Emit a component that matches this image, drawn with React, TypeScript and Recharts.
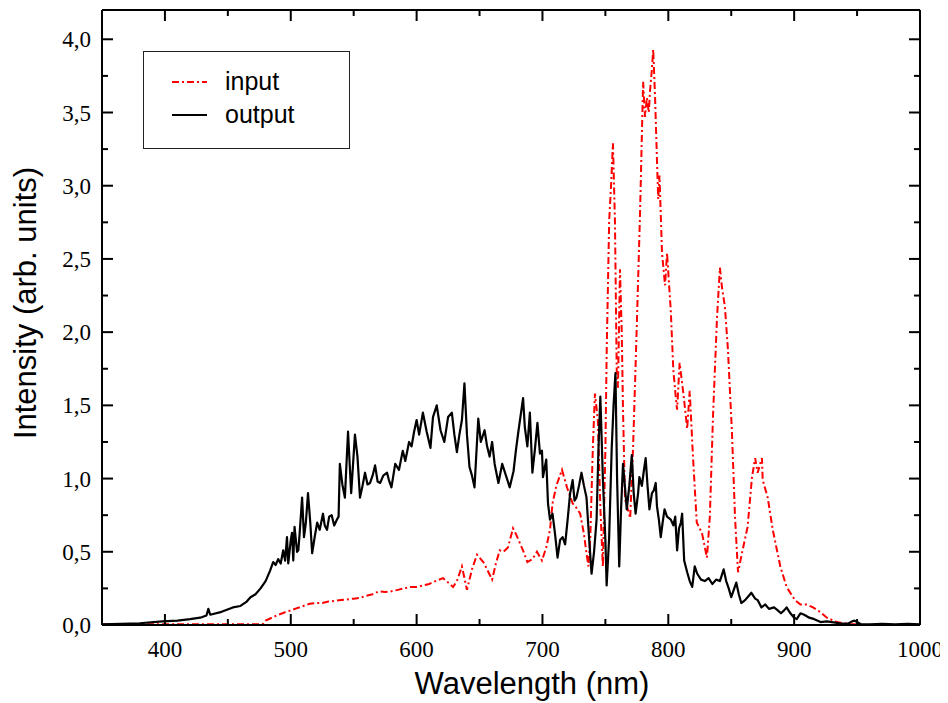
import React from 'react';
import { LineChart, Line, XAxis, YAxis, Legend } from 'recharts';

// output spectrum (black, solid)
const outputWavelength = [
  350, 365, 380, 398, 410, 420, 428, 433, 434.5, 436, 445, 454, 460, 465, 468, 472, 476, 480, 483.5, 486,
  488, 490, 492, 494, 495.5, 497, 498, 500, 501, 502, 503, 505, 506, 507, 509, 510.5, 512, 513.7, 515.5, 517,
  519, 521, 523, 525.6, 527, 528.8, 530.5, 532.5, 534.5, 536.7, 538, 539, 541, 543, 545.5, 548, 549.5, 551, 553, 555,
  557, 559, 561, 563, 565, 567, 569, 571, 573.5, 576.5, 578, 580, 583, 586, 589, 591, 594, 596, 598, 600,
  602, 605, 608, 611, 613, 616, 619, 622, 625, 628, 630, 632, 634, 636, 638, 640, 642, 644, 646, 649,
  651, 654, 656, 658, 660, 662, 665, 668, 671, 674, 677, 679, 681, 684.6, 686, 688, 690, 692, 694, 696,
  698, 699.6, 700.4, 703, 704.4, 706, 708, 710, 712, 714, 716, 718, 720, 722, 724, 725.5, 727, 729, 731, 733,
  735, 737, 739, 741, 743, 744.5, 746, 748, 750, 751, 753, 755, 756.5, 758, 759.3, 761, 762.5, 764, 765.5, 767,
  769, 771, 772.5, 774, 776, 777, 779, 780.5, 782, 783.5, 785, 787, 788.5, 790, 791, 792.5, 794, 795.5, 797, 799,
  802, 804, 805.5, 807, 808.5, 810, 811, 812.6, 815, 817, 819, 821, 823, 826, 829, 832, 835, 838, 841, 844,
  846, 848, 850, 852, 854, 856, 858, 861, 864, 866, 869, 871, 874, 877, 880, 884, 887, 889.5, 892, 894,
  897, 900, 902, 905, 908, 912, 916, 921, 926, 930, 937, 943, 946, 948, 950, 953, 960, 970, 980, 990, 1000,
];
const outputIntensity = [
  0.005, 0.008, 0.012, 0.025, 0.03, 0.04, 0.05, 0.065, 0.11, 0.07, 0.09, 0.12, 0.13, 0.16, 0.19, 0.21, 0.25, 0.3, 0.37, 0.43,
  0.41, 0.45, 0.42, 0.51, 0.44, 0.6, 0.42, 0.58, 0.63, 0.44, 0.67, 0.5, 0.51, 0.62, 0.87, 0.6, 0.7, 0.9, 0.7, 0.49,
  0.6, 0.7, 0.65, 0.76, 0.68, 0.65, 0.74, 0.75, 0.68, 0.72, 0.74, 1.1, 0.96, 0.87, 1.32, 0.9, 1.1, 1.3, 1.15, 0.87,
  0.95, 1.04, 0.96, 0.97, 1.02, 1.09, 0.98, 0.97, 1.02, 1.04, 0.99, 0.94, 1.1, 1.06, 1.19, 1.12, 1.25, 1.22, 1.32, 1.4,
  1.3, 1.45, 1.32, 1.21, 1.42, 1.5, 1.33, 1.25, 1.42, 1.45, 1.3, 1.18, 1.3, 1.4, 1.65, 1.3, 1.08, 1.02, 0.94, 1.41,
  1.25, 1.33, 1.22, 1.15, 1.25, 1.1, 0.97, 1.1, 1.02, 0.94, 1.05, 1.2, 1.33, 1.55, 1.35, 1.22, 1.45, 1.04, 1.2, 1.38,
  1.17, 1.19, 1.01, 1.13, 0.83, 0.72, 0.76, 0.62, 0.46, 0.58, 0.6, 0.55, 0.72, 0.9, 0.99, 0.85, 0.87, 0.95, 1.04, 0.95,
  0.87, 0.6, 0.35, 0.5, 0.72, 1.2, 1.56, 1.0, 0.58, 0.27, 0.6, 1.2, 1.5, 1.72, 1.0, 0.4, 0.8, 1.1, 0.95, 0.79,
  0.95, 1.16, 0.9, 0.76, 0.9, 1.01, 0.95, 1.05, 1.14, 0.95, 0.79, 0.9, 0.92, 0.97, 0.81, 0.72, 0.6, 0.7, 0.79, 0.74,
  0.72, 0.68, 0.74, 0.51, 0.66, 0.7, 0.76, 0.44, 0.36, 0.3, 0.26, 0.4, 0.35, 0.31, 0.3, 0.32, 0.28, 0.31, 0.3, 0.38,
  0.3, 0.25, 0.19, 0.24, 0.29, 0.21, 0.15, 0.17, 0.2, 0.22, 0.18, 0.17, 0.12, 0.14, 0.11, 0.12, 0.1, 0.08, 0.1, 0.12,
  0.08, 0.05, 0.04, 0.08, 0.07, 0.05, 0.04, 0.02, 0.025, 0.02, 0.01, 0.01, 0.025, 0.03, 0.02, 0.005, 0.005, 0.008, 0.005, 0.008, 0.005,
];

// input spectrum (red, dash-dot)
const inputWavelength = [
  350, 380, 420, 460, 470, 475, 478, 480, 485, 490, 495, 500, 505, 510, 515, 520, 525, 530, 540, 550,
  555, 560, 565, 570, 575, 580, 585, 590, 595, 600, 605, 610, 615, 621, 625, 629, 632, 636, 638, 640,
  644, 648, 653, 656, 660, 663, 666, 669, 672.6, 676.6, 679, 682, 685, 688, 692, 695.6, 699.6, 703, 706, 708,
  711, 715.5, 719.5, 724, 727, 730, 733, 735, 736.5, 738, 740, 741.7, 744, 746, 748, 750, 751, 753, 754.5, 756,
  757.6, 759, 760, 761.6, 763, 764, 765.6, 767.5, 769.7, 772, 774.8, 777.5, 780, 781.5, 783, 784.5, 785.5, 787, 788, 789.5,
  791, 792, 793, 795, 797.4, 799, 802, 804, 806, 807, 809, 812, 815, 817, 819.6, 822.6, 826.7, 830.7, 833, 835.5,
  838.7, 841, 842.6, 845, 847.4, 850.6, 853, 855.4, 859, 863, 866.5, 869, 871, 873, 874.4, 875, 879, 883, 889, 894,
  900.6, 905, 910, 915, 920.5, 926, 934, 944, 950,
];
const inputIntensity = [
  0.005, 0.005, 0.005, 0.005, 0.005, 0.005, 0.008, 0.03, 0.05, 0.07, 0.085, 0.1, 0.115, 0.13, 0.145, 0.15, 0.15, 0.16, 0.17, 0.18,
  0.185, 0.2, 0.21, 0.23, 0.225, 0.23, 0.24, 0.25, 0.26, 0.26, 0.27, 0.28, 0.3, 0.32, 0.29, 0.26, 0.3, 0.4, 0.32, 0.24,
  0.38, 0.48, 0.43, 0.38, 0.31, 0.42, 0.51, 0.5, 0.53, 0.66, 0.62, 0.56, 0.5, 0.43, 0.45, 0.5, 0.44, 0.53, 0.65, 0.83,
  0.95, 1.06, 0.94, 0.83, 0.8, 0.76, 0.62, 0.49, 0.4, 0.6, 1.2, 1.58, 1.4, 0.8, 0.4, 1.2, 1.85, 2.76, 3.0, 3.29,
  2.76, 1.74, 1.62, 2.43, 2.0, 1.47, 0.86, 0.8, 0.73, 1.21, 2.0, 2.8, 3.71, 3.47, 3.6, 3.5, 3.65, 3.8, 3.93, 3.6,
  3.17, 2.91, 3.07, 2.54, 2.32, 2.54, 2.14, 1.74, 1.55, 1.47, 1.79, 1.58, 1.34, 1.6, 1.15, 0.7, 0.63, 0.46, 0.74, 1.42,
  2.1, 2.44, 2.31, 2.17, 1.88, 1.31, 0.74, 0.36, 0.51, 0.67, 1.01, 1.14, 1.04, 1.1, 1.14, 0.99, 0.87, 0.65, 0.4, 0.26,
  0.17, 0.14, 0.14, 0.12, 0.09, 0.05, 0.02, 0.005, 0.005,
];

const xTicks = [350, 400, 450, 500, 550, 600, 650, 700, 750, 800, 850, 900, 950, 1000];
const yTicks = [0, 0.25, 0.5, 0.75, 1, 1.25, 1.5, 1.75, 2, 2.25, 2.5, 2.75, 3, 3.25, 3.5, 3.75, 4];

const outputData = outputWavelength.map((x, i) => ({ x, y: outputIntensity[i] }));
const inputData = inputWavelength.map((x, i) => ({ x, y: inputIntensity[i] }));

const SERIF = '"Liberation Serif", "Times New Roman", serif';
const SANS = '"Liberation Sans", Arial, sans-serif';

const isMajorX = (v: number) => v % 100 === 0;
const isMajorY = (v: number) => Math.abs(v * 2 - Math.round(v * 2)) < 1e-6;

const BottomTick = (props: any) => {
  const { x, y, payload } = props;
  const v = payload.value;
  const major = isMajorX(v);
  return (
    <g>
      <line x1={x} y1={y} x2={x} y2={y - (major ? 11 : 6)} stroke="#000" strokeWidth={2} />
      {major && v > 350 && (
        <text x={x} y={y + 32} textAnchor="middle" fontFamily={SERIF} fontSize={23} fill="#000">
          {v}
        </text>
      )}
    </g>
  );
};

const TopTick = (props: any) => {
  const { x, y, payload } = props;
  const major = isMajorX(payload.value);
  return <line x1={x} y1={y} x2={x} y2={y + (major ? 11 : 6)} stroke="#000" strokeWidth={2} />;
};

const LeftTick = (props: any) => {
  const { x, y, payload } = props;
  const v = payload.value;
  const major = isMajorY(v);
  return (
    <g>
      <line x1={x} y1={y} x2={x + (major ? 11 : 6)} y2={y} stroke="#000" strokeWidth={2} />
      {major && (
        <text x={x - 11} y={y + 8} textAnchor="end" fontFamily={SERIF} fontSize={23} fill="#000">
          {v.toFixed(1).replace('.', ',')}
        </text>
      )}
    </g>
  );
};

const RightTick = (props: any) => {
  const { x, y, payload } = props;
  const major = isMajorY(payload.value);
  return <line x1={x} y1={y} x2={x - (major ? 11 : 6)} y2={y} stroke="#000" strokeWidth={2} />;
};

const LegendBox = () => (
  <svg width={207} height={98}>
    <rect x={0.5} y={0.5} width={206} height={97} fill="#fff" stroke="#222" strokeWidth={1} />
    <line x1={29} y1={31} x2={64} y2={31} stroke="#ff0000" strokeWidth={2} strokeDasharray="7 3 2 3" />
    <text x={82} y={39} fontFamily={SANS} fontSize={25} fill="#000">input</text>
    <line x1={29} y1={64} x2={64} y2={64} stroke="#000" strokeWidth={2} />
    <text x={82} y={72} fontFamily={SANS} fontSize={25} fill="#000">output</text>
  </svg>
);

const YTitle = () => (
  <text
    x={28}
    y={295}
    transform="rotate(-90 28 295)"
    textAnchor="middle"
    fontFamily={SANS}
    fontSize={31}
    fill="#000"
  >
    Intensity (arb. units)
  </text>
);

const App: React.FC = () => {
  return (
    <LineChart width={940} height={695} margin={{ top: 1, right: 27, bottom: 0, left: 0 }}>
      <XAxis
        xAxisId="bottom"
        dataKey="x"
        type="number"
        domain={[350, 1000]}
        ticks={xTicks}
        interval={0}
        allowDataOverflow
        height={78}
        tickSize={0}
        tickMargin={0}
        tickLine={false}
        axisLine={{ stroke: '#000', strokeWidth: 2 }}
        tick={<BottomTick />}
        label={{
          value: 'Wavelength (nm)',
          position: 'insideBottom',
          offset: 9,
          dx: 21,
          fontFamily: SANS,
          fontSize: 31,
          fill: '#000',
        }}
      />
      <XAxis
        xAxisId="top"
        orientation="top"
        dataKey="x"
        type="number"
        domain={[350, 1000]}
        ticks={xTicks}
        interval={0}
        allowDataOverflow
        height={1}
        tickSize={0}
        tickMargin={0}
        tickLine={false}
        axisLine={{ stroke: '#000', strokeWidth: 2 }}
        tick={<TopTick />}
      />
      <YAxis
        yAxisId="left"
        type="number"
        domain={[0, 4.2]}
        ticks={yTicks}
        interval={0}
        allowDataOverflow
        width={94}
        tickSize={0}
        tickMargin={0}
        tickLine={false}
        axisLine={{ stroke: '#000', strokeWidth: 2 }}
        tick={<LeftTick />}
        label={<YTitle />}
      />
      <YAxis
        yAxisId="right"
        orientation="right"
        type="number"
        domain={[0, 4.2]}
        ticks={yTicks}
        interval={0}
        allowDataOverflow
        width={1}
        tickSize={0}
        tickMargin={0}
        tickLine={false}
        axisLine={{ stroke: '#000', strokeWidth: 2 }}
        tick={<RightTick />}
      />
      {/* invisible series so the mirrored top/right axes get drawn */}
      <Line
        xAxisId="top"
        yAxisId="right"
        data={inputData}
        dataKey="y"
        stroke="none"
        dot={false}
        activeDot={false}
        legendType="none"
        isAnimationActive={false}
      />
      <Line
        xAxisId="bottom"
        yAxisId="left"
        data={inputData}
        dataKey="y"
        name="input"
        stroke="#ff0000"
        strokeWidth={2}
        strokeDasharray="7 3 2 3"
        dot={false}
        activeDot={false}
        isAnimationActive={false}
      />
      <Line
        xAxisId="bottom"
        yAxisId="left"
        data={outputData}
        dataKey="y"
        name="output"
        stroke="#000"
        strokeWidth={2.2}
        strokeLinejoin="round"
        dot={false}
        activeDot={false}
        isAnimationActive={false}
      />
      <Legend
        layout="vertical"
        align="center"
        verticalAlign="middle"
        content={<LegendBox />}
        wrapperStyle={{ left: 135, top: 43, width: 207, height: 98 }}
      />
    </LineChart>
  );
};

export default App;
